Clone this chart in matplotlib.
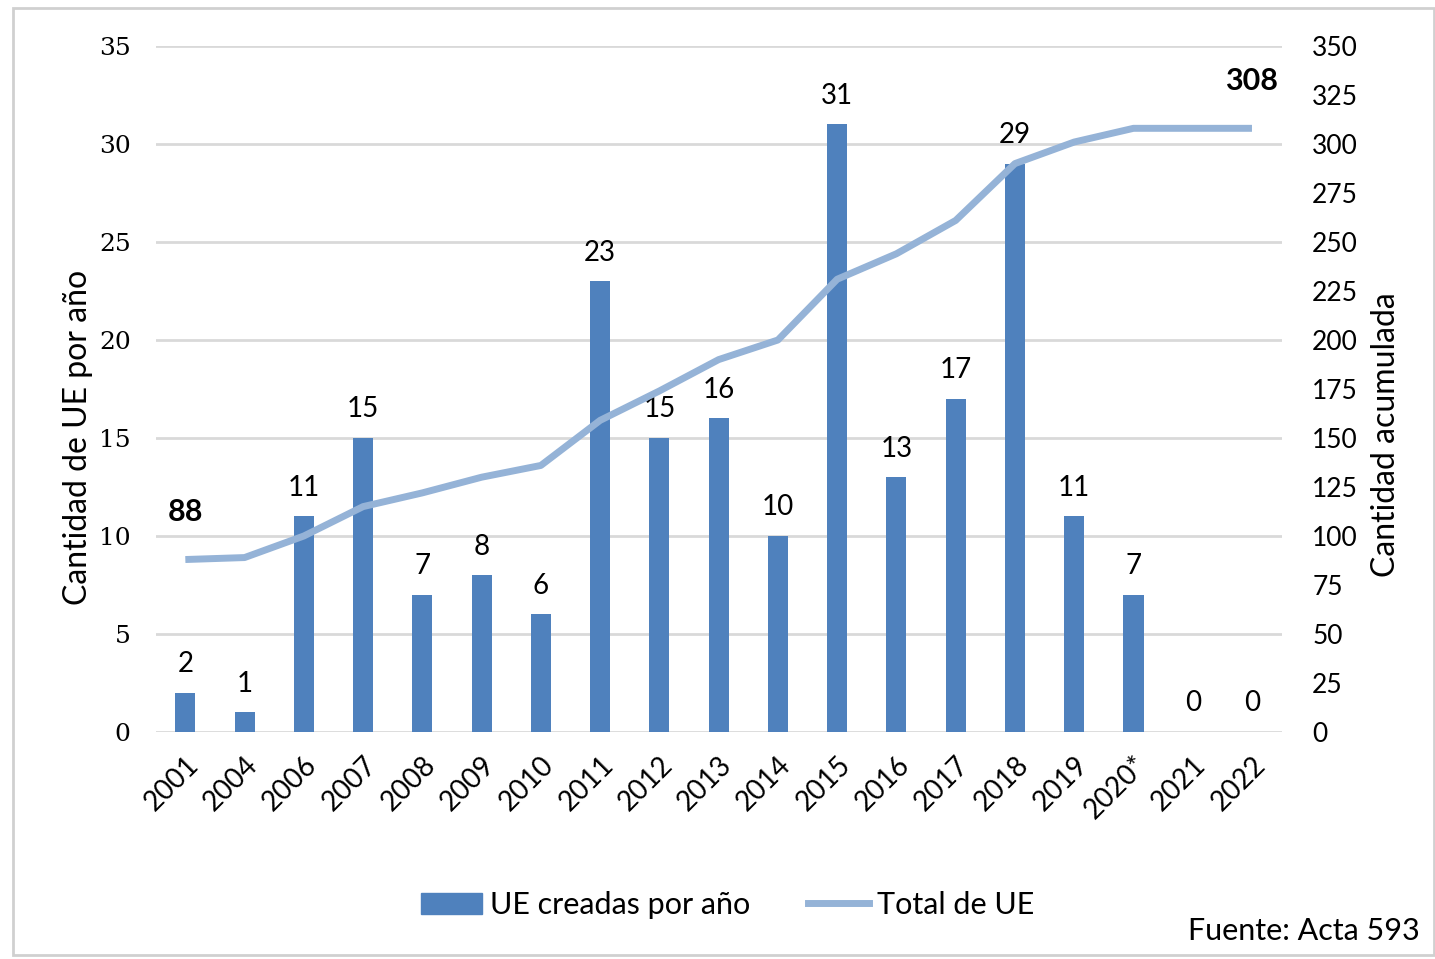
import matplotlib.pyplot as plt
import matplotlib.patches as mpatches
from matplotlib.lines import Line2D

# data
years = ["2001", "2004", "2006", "2007", "2008", "2009", "2010", "2011", "2012", "2013",
         "2014", "2015", "2016", "2017", "2018", "2019", "2020*", "2021", "2022"]
created = [2, 1, 11, 15, 7, 8, 6, 23, 15, 16, 10, 31, 13, 17, 29, 11, 7, 0, 0]
total = [88, 89, 100, 115, 122, 130, 136, 159, 174, 190, 200, 231, 244, 261, 290, 301, 308, 308, 308]

bar_color = '#4F81BD'
line_color = '#95B3D7'
grid_color = '#D9D9D9'
font = ['Lato', 'DejaVu Sans']

fig = plt.figure(figsize=(14.35, 9.59), dpi=100)
ax = fig.add_axes([155.7 / 1435, 1 - 732 / 959, (1281.6 - 155.7) / 1435, (732 - 46) / 959])
ax2 = ax.twinx()

x = list(range(len(years)))
ax.bar(x, created, width=0.34, color=bar_color, zorder=2)
ax2.plot(x, total, color=line_color, linewidth=5, solid_capstyle='butt', zorder=3)

ax.set_xlim(-0.5, len(years) - 0.5)
ax.set_ylim(0, 35)
ax2.set_ylim(0, 350)
ax.set_yticks(range(0, 36, 5))
ax2.set_yticks(range(0, 351, 25))
ax.grid(axis='y', color=grid_color, linewidth=2, zorder=0)
ax.set_axisbelow(True)

for a in (ax, ax2):
    for s in a.spines.values():
        s.set_visible(False)
    a.tick_params(length=0)

ax.set_xticks(x)
ax.set_xticklabels(years, rotation=45, ha='right', va='top', rotation_mode='anchor',
                   fontsize=20, family=font)
ax.tick_params(axis='x', pad=14)
for lbl in ax.get_yticklabels():
    lbl.set_family(['DejaVu Serif'])
    lbl.set_fontsize(18)
ax.tick_params(axis='y', pad=18)
for lbl in ax2.get_yticklabels():
    lbl.set_family(font)
    lbl.set_fontsize(19)
ax2.tick_params(axis='y', pad=22)

ax.set_ylabel('Cantidad de UE por año', fontsize=23, family=font)
ax2.set_ylabel('Cantidad acumulada', fontsize=23, family=font)
ax.yaxis.set_label_coords(-0.056, 0.43)
ax2.yaxis.set_label_coords(1.079, 0.433)

# value labels on bars
for xi, v in zip(x, created):
    ax.text(xi, v + 0.8, str(v), ha='center', va='bottom', fontsize=20, family=font, zorder=4)

# first and last cumulative values
ax2.text(x[0], total[0] + 17, str(total[0]), ha='center', va='bottom', fontsize=22,
         fontweight='bold', family=font)
ax2.text(x[-1], total[-1] + 17, str(total[-1]), ha='center', va='bottom', fontsize=22,
         fontweight='bold', family=font)

handles = [mpatches.Patch(color=bar_color, label='UE creadas por año'),
           Line2D([0], [0], color=line_color, linewidth=5, label='Total de UE')]
fig.legend(handles=handles, loc='center', bbox_to_anchor=(0.507, 1 - 905 / 959), ncol=2,
           frameon=False, prop={'family': font, 'size': 22}, handlelength=2.0,
           handletextpad=0.25, columnspacing=1.9)

fig.text(1420 / 1435, 1 - 931 / 959, 'Fuente: Acta 593', ha='right', va='center',
         fontsize=22, family=font)

# outer frame
fig.patches.append(mpatches.Rectangle((13 / 1435, 4 / 959), 1 - 14 / 1435, 1 - 12 / 959,
                                      transform=fig.transFigure, fill=False,
                                      edgecolor='#D0D0D0', linewidth=2))

fig.savefig('out.png', dpi=100)
